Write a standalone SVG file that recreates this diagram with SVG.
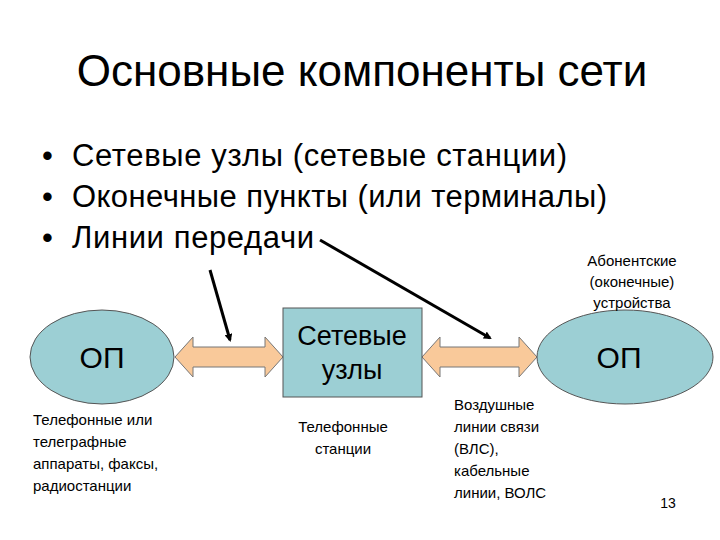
<svg xmlns="http://www.w3.org/2000/svg" width="720" height="540" viewBox="0 0 720 540">
<style>
text{font-family:"Liberation Sans",Arial,sans-serif;fill:#000}
.node{fill:#9ccfd4;stroke:#555;stroke-width:1}
.da{fill:#f9c99a;stroke:#777;stroke-width:1}
.ptr{stroke:#000;stroke-width:3;fill:none;marker-end:url(#ah)}
.s{font-size:15px}
.b{font-size:31px}
</style>
<defs><marker id="ah" markerWidth="8" markerHeight="8" refX="6" refY="4" orient="auto" markerUnits="userSpaceOnUse" viewBox="0 0 8 8"><path d="M0,0L8,4L0,8z" fill="#000"/></marker></defs>
<rect width="720" height="540" fill="#fff"/>
<text x="362" y="86" font-size="44" text-anchor="middle">Основные компоненты сети</text>
<text x="42" y="166" class="b">•</text><text x="72" y="166" class="b" textLength="495">Сетевые узлы (сетевые станции)</text>
<text x="42" y="207" class="b">•</text><text x="72" y="207" class="b" textLength="535">Оконечные пункты (или терминалы)</text>
<text x="42" y="248" class="b">•</text><text x="72" y="248" class="b" textLength="242">Линии передачи</text>
<g id="conn">
<path class="da" d="M175,357L193,337V347H265V337L283,357L265,377V367H193V377Z"/>
<path class="da" d="M422,357L440,337V347H519V337L537,357L519,377V367H440V377Z"/>
<line class="ptr" x1="210" y1="270" x2="230" y2="340"/>
<line class="ptr" x1="320" y1="240" x2="490" y2="338"/>
</g>
<g id="op1"><ellipse class="node" cx="102" cy="357" rx="72" ry="47"/><text x="102" y="368" font-size="30" text-anchor="middle">ОП</text></g>
<g id="nodes"><rect class="node" x="283" y="308" width="139" height="89"/><text x="352" y="345" font-size="27" text-anchor="middle">Сетевые</text><text x="352" y="379" font-size="27" text-anchor="middle">узлы</text></g>
<g id="op2"><ellipse class="node" cx="625" cy="357" rx="88" ry="47"/><text x="619" y="368" font-size="30" text-anchor="middle">ОП</text></g>
<g id="ab" class="s"><text x="632" y="266" text-anchor="middle">Абонентские</text><text x="632" y="287" text-anchor="middle">(оконечные)</text><text x="632" y="308" text-anchor="middle">устройства</text></g>
<g id="l1" class="s"><text x="33" y="425">Телефонные или</text><text x="33" y="447">телеграфные</text><text x="33" y="469">аппараты, факсы,</text><text x="33" y="491">радиостанции</text></g>
<g id="l2" class="s"><text x="343" y="432" text-anchor="middle">Телефонные</text><text x="343" y="454" text-anchor="middle">станции</text></g>
<g id="l3" class="s"><text x="454" y="410">Воздушные</text><text x="454" y="432">линии связи</text><text x="454" y="454">(ВЛС),</text><text x="454" y="476">кабельные</text><text x="454" y="498">линии, ВОЛС</text></g>
<text x="668" y="508" font-size="14" text-anchor="middle">13</text>
</svg>
